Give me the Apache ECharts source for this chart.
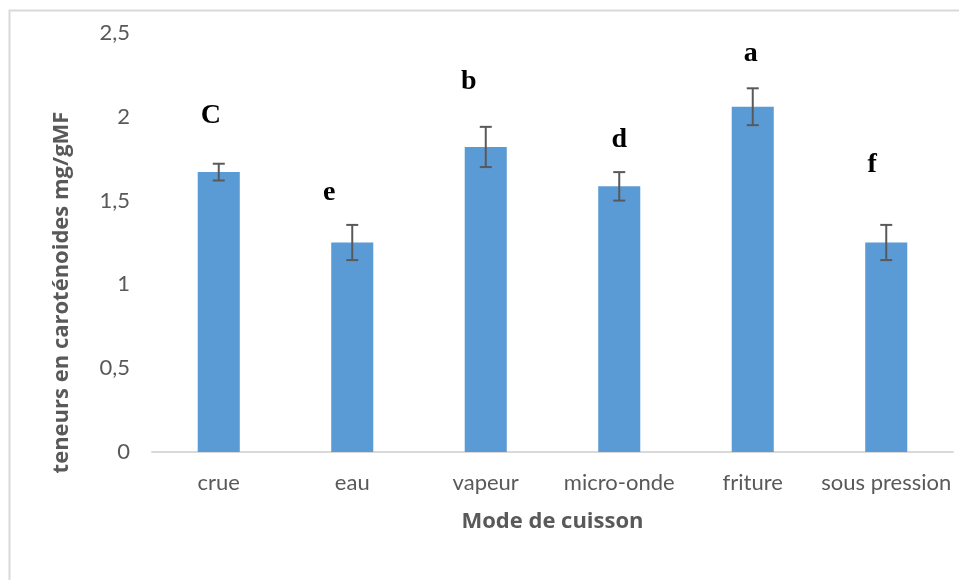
<!DOCTYPE html>
<html>
<head>
<meta charset="utf-8">
<script src="https://cdn.jsdelivr.net/npm/echarts@6/dist/echarts.min.js"></script>
<style>
  html, body { margin: 0; padding: 0; background: #ffffff; }
  #chart { width: 959px; height: 580px; }
</style>
</head>
<body>
<div id="chart"></div>
<script>
// Carotenoid content by cooking method (mg/gMF), mean ± error
const categories = ['crue', 'eau', 'vapeur', 'micro-onde', 'friture', 'sous pression'];
const means = [1.67, 1.25, 1.82, 1.585, 2.06, 1.25];
const errors = [0.05, 0.105, 0.12, 0.085, 0.11, 0.105];
const groupLetters = ['C', 'e', 'b', 'd', 'a', 'f'];

// letter placement relative to the top-centre of each bar (px)
const letterOffsets = [[-8, -56], [-23, -50], [-17, -65], [0, -47], [-2, -53], [-14, -78]];

const chart = echarts.init(document.getElementById('chart'));

const barData = means.map((v, i) => ({
  value: v,
  label: {
    show: true,
    formatter: groupLetters[i],
    position: ['50%', 0],
    offset: letterOffsets[i],
    align: 'center',
    verticalAlign: 'middle',
    fontFamily: 'Liberation Serif',
    fontWeight: 'bold',
    fontSize: 28,
    color: '#000000'
  }
}));

const errorData = means.map((v, i) => [i, v - errors[i], v + errors[i]]);

chart.setOption({
  animation: false,
  backgroundColor: '#ffffff',
  graphic: [{
    type: 'rect',
    left: 7, top: 8,
    shape: { width: 970, height: 590 },
    style: { fill: 'none', stroke: '#d9d9d9', lineWidth: 2 },
    silent: true
  }],
  grid: { left: 152, right: 6, top: 33, bottom: 128 },
  xAxis: {
    type: 'category',
    data: categories,
    name: 'Mode de cuisson',
    nameLocation: 'middle',
    nameGap: 59,
    nameTextStyle: { fontFamily: 'Open Sans', fontWeight: 'bold', fontSize: 22, color: '#595959' },
    axisLine: { lineStyle: { color: '#d9d9d9', width: 2 } },
    axisTick: { show: false },
    axisLabel: { interval: 0, margin: 20, fontFamily: 'Lato', fontSize: 22, color: '#595959' }
  },
  yAxis: {
    type: 'value',
    min: 0, max: 2.5, interval: 0.5,
    name: 'teneurs en caroténoides mg/gMF',
    nameLocation: 'middle',
    nameGap: 79,
    nameTextStyle: {
      fontFamily: 'Open Sans', fontWeight: 'bold', fontSize: 22, color: '#595959',
      padding: [0, 100, 0, 0]
    },
    axisLine: { show: false },
    axisTick: { show: false },
    splitLine: { show: false },
    axisLabel: {
      margin: 22,
      fontFamily: 'Lato', fontSize: 22, color: '#595959',
      formatter: v => String(v).replace('.', ',')
    }
  },
  series: [
    {
      type: 'bar',
      data: barData,
      barWidth: '31.5%',
      itemStyle: { color: '#5b9bd5' }
    },
    {
      type: 'custom',
      data: errorData,
      z: 5,
      renderItem: function (params, api) {
        const x = api.value(0);
        const lo = api.coord([x, api.value(1)]);
        const hi = api.coord([x, api.value(2)]);
        const half = 6;
        const style = { stroke: '#595959', lineWidth: 2 };
        return {
          type: 'group',
          children: [
            { type: 'line', shape: { x1: hi[0], y1: hi[1], x2: lo[0], y2: lo[1] }, style },
            { type: 'line', shape: { x1: hi[0] - half, y1: hi[1], x2: hi[0] + half, y2: hi[1] }, style },
            { type: 'line', shape: { x1: lo[0] - half, y1: lo[1], x2: lo[0] + half, y2: lo[1] }, style }
          ]
        };
      }
    }
  ]
});
</script>
</body>
</html>
